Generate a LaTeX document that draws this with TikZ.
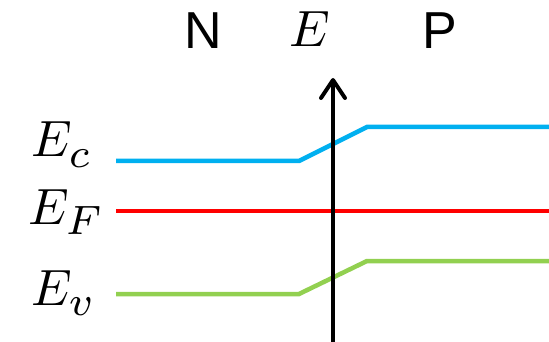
\documentclass[tikz,border=0pt]{standalone}
\usepackage{fontspec}
\usepackage{graphicx}
\setsansfont{Liberation Sans}
\usetikzlibrary{arrows.meta}
\definecolor{cband}{RGB}{0,176,240}
\definecolor{fband}{RGB}{255,0,0}
\definecolor{vband}{RGB}{146,208,80}
\newcommand\bigsub[1]{\raisebox{-0.5pt}{\scalebox{1.15}{$\scriptstyle #1$}}}
\tikzset{
  band/.style={line width=4.5pt, line join=miter},
  lbl/.style={anchor=base west, inner sep=0pt, scale=5.1},
  side/.style={anchor=base west, inner sep=0pt, scale=5.2, font=\sffamily},
}
\begin{document}
\begin{tikzpicture}[x=1pt,y=-1pt]
\useasboundingbox (0,0) rectangle (549,342);
% bands
\coordinate (c1) at (116,161); \coordinate (c2) at (299,161);
\coordinate (c3) at (367,127); \coordinate (c4) at (549,127);
\coordinate (f1) at (116,211); \coordinate (f2) at (549,211);
\coordinate (v1) at (116,294); \coordinate (v2) at (299,294);
\coordinate (v3) at (367,261); \coordinate (v4) at (549,261);
\draw[band, cband] (c1) -- (c2) -- (c3) -- (c4);
\draw[band, fband] (f1) -- (f2);
\draw[band, vband] (v1) -- (v2) -- (v3) -- (v4);
% axis
\coordinate (axb) at (333,342);
\coordinate (axt) at (333,78);
\draw[line width=4pt, -{Straight Barb[length=18pt,width=24pt,round]}] (axb) -- (axt);
% labels
\node[lbl] (lc) at (30,157) {$E_{\bigsub{c}}$};
\node[lbl] (lf) at (27,224) {$E_{\bigsub{F}}$};
\node[lbl] (lv) at (30,305) {$E_{\bigsub{v}}$};
\node[side] (ln) at (183,49) {N};
\node[lbl] (le) at (288,47) {$E$};
\node[side] (lp) at (421,49) {P};
\end{tikzpicture}
\end{document}
